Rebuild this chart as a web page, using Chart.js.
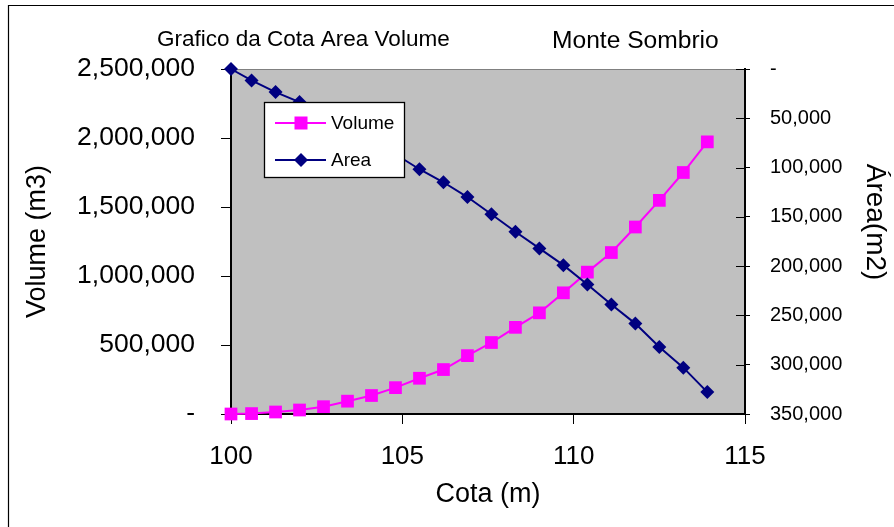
<!DOCTYPE html>
<html>
<head>
<meta charset="utf-8">
<script src="https://cdn.jsdelivr.net/npm/chart.js@4.4.1/dist/chart.umd.min.js"></script>
<style>
  html, body { margin: 0; padding: 0; background: #ffffff; }
  #wrap { width: 894px; height: 527px; }
</style>
</head>
<body>
<div id="wrap"><canvas id="c" width="894" height="527"></canvas></div>
<script>
// ---- data ----
const cota = [100, 100.6, 101.3, 102, 102.7, 103.4, 104.1, 104.8, 105.5, 106.2, 106.9,
              107.6, 108.3, 109, 109.7, 110.4, 111.1, 111.8, 112.5, 113.2, 113.9];
const volume = [0, 3000, 14500, 29000, 53000, 93000, 134000, 191000, 259000, 322000, 423000,
                518000, 628000, 733000, 878000, 1028000, 1170000, 1355000, 1548000, 1750000, 1972000];
const area = [0, 11600, 23400, 33600, 45000, 58000, 72000, 86500, 101700, 114900, 129900,
              147400, 165100, 182000, 199000, 218600, 239000, 258300, 282100, 303000, 327800];
const seriesNames = ['Volume', 'Area'];
const xTicks = [100, 105, 110, 115];
const volumeTicks = [0, 500000, 1000000, 1500000, 2000000, 2500000];
const areaTicks = [0, 50000, 100000, 150000, 200000, 250000, 300000, 350000];
const chartTitle = 'Grafico da Cota Area Volume';
const chartSubtitle = 'Monte Sombrio';
const xTitle = 'Cota (m)';
const yLeftTitle = 'Volume (m3)';
const yRightTitle = 'Área(m2)';

const FONT = "'Liberation Sans', Arial, sans-serif";
const MAGENTA = '#FF00FF';
const NAVY = '#000080';

Chart.defaults.font.family = FONT;
Chart.defaults.color = '#000000';

const fmt = v => v === 0 ? '-' : v.toLocaleString('en-US');

const frame = {
  id: 'frame',
  beforeDraw(chart) {
    const ctx = chart.ctx, a = chart.chartArea;
    ctx.save();
    ctx.fillStyle = '#FFFFFF';
    ctx.fillRect(0, 0, chart.width, chart.height);
    // outer chart border (cropped at right / bottom)
    ctx.strokeStyle = '#000000';
    ctx.lineWidth = 1.2;
    ctx.beginPath();
    ctx.moveTo(8.5, chart.height + 2);
    ctx.lineTo(8.5, 5.5);
    ctx.lineTo(chart.width + 2, 5.5);
    ctx.stroke();
    // plot area
    ctx.fillStyle = '#C0C0C0';
    ctx.fillRect(a.left, a.top, a.right - a.left, a.bottom - a.top);
    ctx.strokeStyle = '#808080';
    ctx.lineWidth = 1;
    ctx.beginPath();
    ctx.moveTo(a.left, a.top + 0.5);
    ctx.lineTo(a.right, a.top + 0.5);
    ctx.stroke();
    // titles
    ctx.fillStyle = '#000000';
    ctx.textBaseline = 'alphabetic';
    ctx.textAlign = 'left';
    ctx.font = '22.5px ' + FONT;
    ctx.fillText(chartTitle, 157, 45.5);
    ctx.font = '24.6px ' + FONT;
    ctx.fillText(chartSubtitle, 552, 48.3);
    ctx.restore();
  },
  afterDraw(chart) {
    // inner half of the right-axis tick marks
    const ctx = chart.ctx, s = chart.scales.y2;
    ctx.save();
    ctx.strokeStyle = '#000000';
    ctx.lineWidth = 1;
    s.ticks.forEach((t, i) => {
      const y = Math.round(s.getPixelForTick(i)) + 0.5;
      ctx.beginPath();
      ctx.moveTo(s.left - 9, y);
      ctx.lineTo(s.left, y);
      ctx.stroke();
    });
    // legend box
    const bx = 264.5, by = 102.5, bw = 140, bh = 75;
    ctx.fillStyle = '#FFFFFF';
    ctx.fillRect(bx, by, bw, bh);
    ctx.strokeStyle = '#000000';
    ctx.lineWidth = 1.3;
    ctx.strokeRect(bx, by, bw, bh);
    const rows = [
      {name: seriesNames[0], color: MAGENTA, y: 123, marker: 'rect'},
      {name: seriesNames[1], color: NAVY, y: 160, marker: 'diamond'}
    ];
    rows.forEach(r => {
      ctx.strokeStyle = r.color;
      ctx.lineWidth = 2;
      ctx.beginPath();
      ctx.moveTo(275, r.y);
      ctx.lineTo(326, r.y);
      ctx.stroke();
      ctx.fillStyle = r.color;
      const cx = 301;
      if (r.marker === 'rect') {
        ctx.fillRect(cx - 6.5, r.y - 6.5, 13, 13);
      } else {
        ctx.beginPath();
        ctx.moveTo(cx, r.y - 7);
        ctx.lineTo(cx + 7, r.y);
        ctx.lineTo(cx, r.y + 7);
        ctx.lineTo(cx - 7, r.y);
        ctx.closePath();
        ctx.fill();
      }
      ctx.fillStyle = '#000000';
      ctx.font = '19px ' + FONT;
      ctx.textAlign = 'left';
      ctx.textBaseline = 'middle';
      ctx.fillText(r.name, 331, r.y + 1);
    });
    ctx.restore();
  }
};

const toPts = (xs, ys) => xs.map((x, i) => ({x: x, y: ys[i]}));

new Chart(document.getElementById('c'), {
  type: 'line',
  data: {
    datasets: [
      {
        label: seriesNames[0],
        data: toPts(cota, volume),
        yAxisID: 'y',
        borderColor: MAGENTA,
        backgroundColor: MAGENTA,
        borderWidth: 2,
        pointStyle: 'rect',
        pointRadius: 9,
        pointBorderWidth: 0,
        pointBackgroundColor: MAGENTA,
        tension: 0,
        clip: false,
        order: 2
      },
      {
        label: seriesNames[1],
        data: toPts(cota, area),
        yAxisID: 'y2',
        borderColor: NAVY,
        backgroundColor: NAVY,
        borderWidth: 2,
        pointStyle: 'rectRot',
        pointRadius: 7,
        pointBorderWidth: 0,
        pointBackgroundColor: NAVY,
        tension: 0,
        clip: false,
        order: 1
      }
    ]
  },
  options: {
    responsive: false,
    animation: false,
    devicePixelRatio: 1,
    layout: { padding: { top: 69, left: 0, right: 0, bottom: 0 } },
    plugins: {
      legend: { display: false },
      title: { display: false },
      tooltip: { enabled: false }
    },
    scales: {
      x: {
        type: 'linear',
        min: 100, max: 115,
        afterFit(s) { s.height = 113; },
        afterBuildTicks(s) { s.ticks = xTicks.map(v => ({value: v})); },
        ticks: {
          font: { size: 26 },
          padding: 17,
          autoSkip: false,
          maxRotation: 0,
          callback: v => String(v)
        },
        grid: { drawOnChartArea: false, drawTicks: true, tickLength: 10, tickColor: '#000', tickWidth: 1 },
        border: { display: true, color: '#000', width: 2 },
        title: { display: true, text: xTitle, font: { size: 27 }, padding: { top: 0, bottom: 15.8 } }
      },
      y: {
        type: 'linear',
        position: 'left',
        min: 0, max: 2500000,
        afterFit(s) { s.width = 231; },
        afterBuildTicks(s) { s.ticks = volumeTicks.map(v => ({value: v})); },
        ticks: {
          font: { size: 26.5 },
          padding: 26,
          autoSkip: false,
          callback: v => fmt(v)
        },
        grid: { drawOnChartArea: false, drawTicks: true, tickLength: 10, tickColor: '#000', tickWidth: 1 },
        border: { display: true, color: '#000', width: 2 },
        title: { display: true, text: yLeftTitle, font: { size: 27 }, padding: { top: 21.8, bottom: 0 } }
      },
      y2: {
        type: 'linear',
        position: 'right',
        reverse: true,
        min: 0, max: 350000,
        afterFit(s) { s.width = 149; },
        afterBuildTicks(s) { s.ticks = areaTicks.map(v => ({value: v})); },
        ticks: {
          font: { size: 20 },
          padding: 20,
          autoSkip: false,
          callback: v => fmt(v)
        },
        grid: { drawOnChartArea: false, drawTicks: true, tickLength: 5, tickColor: '#000', tickWidth: 1 },
        border: { display: true, color: '#000', width: 2 },
        title: { display: true, text: yRightTitle + '\u00A0\u00A0\u00A0\u00A0\u00A0', font: { size: 28 }, padding: { top: 2.2, bottom: 0 } }
      }
    }
  },
  plugins: [frame]
});
</script>
</body>
</html>
